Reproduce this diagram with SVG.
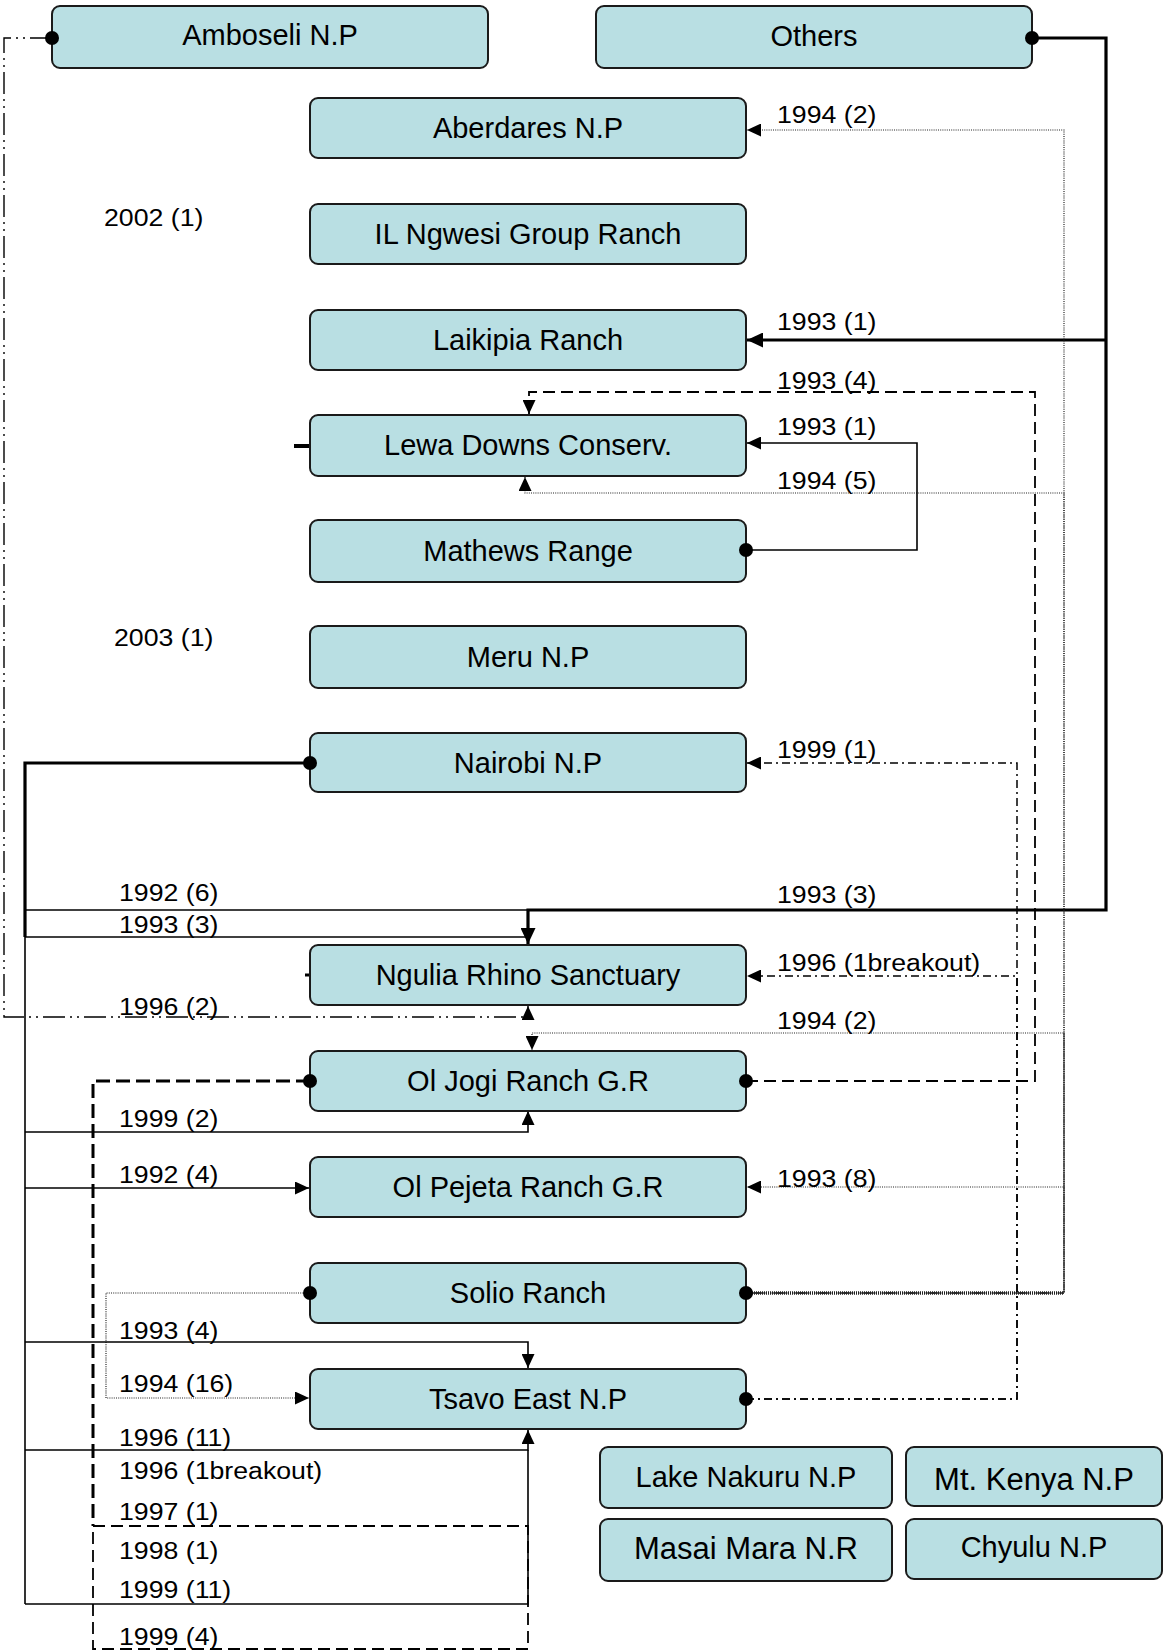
<svg xmlns="http://www.w3.org/2000/svg" width="1165" height="1651" viewBox="0 0 1165 1651">
<style>
.box{fill:#B9DFE3;stroke:#1a1a1a;stroke-width:2}
.nt{font-family:"Liberation Sans",Arial,sans-serif;font-size:29px;fill:#000;text-anchor:middle}
.nt2{font-size:31px}
.lb{font-family:"Liberation Sans",Arial,sans-serif;font-size:24.5px;fill:#000;transform-box:fill-box;transform-origin:0 100%;transform:scaleX(1.09)}
.c{fill:none;stroke:#000}
.thick{stroke-width:3.2}
.solid{stroke-width:1.6}
.dotted{stroke-width:1.2;stroke-dasharray:1 1.2;stroke:#222}
.dashed{stroke-width:1.8;stroke-dasharray:12 6}
.dashedB{stroke-width:3;stroke-dasharray:14 6}
.dashdot{stroke-width:1.5;stroke-dasharray:8 4 2 4}
.dashdotdot{stroke-width:1.4;stroke-dasharray:22 5 2 5 2 5}
</style>
<defs>
<marker id="arr" viewBox="0 0 14 14" refX="14" refY="7" markerWidth="14" markerHeight="13" markerUnits="userSpaceOnUse" orient="auto" preserveAspectRatio="none">
<path d="M0,0 L14,7 L0,14 z" fill="#000"/>
</marker>
<marker id="arrB" viewBox="0 0 14 14" refX="14" refY="7" markerWidth="16" markerHeight="15" markerUnits="userSpaceOnUse" orient="auto" preserveAspectRatio="none">
<path d="M0,0 L14,7 L0,14 z" fill="#000"/>
</marker>
</defs>

<g id="connectors">
<!-- Amboseli -> Ngulia 1996 (2) -->
<path class="c dashdotdot" d="M52,38 H4 V1017 H528 V1006" marker-end="url(#arr)"/>
<!-- Others thick -->
<path class="c thick" d="M1032,38 H1106 V910 H528 V944" marker-end="url(#arrB)"/>
<path class="c thick" d="M1106,340 H747" marker-end="url(#arrB)"/>
<!-- Solio dotted -->
<path class="c dotted" d="M746,1293 H1064 V130 H747" marker-end="url(#arr)"/>
<path class="c dotted" d="M746,1293 H1064 V493 H525 V477" marker-end="url(#arr)"/>
<path class="c dotted" d="M746,1293 H1064 V1033 H532 V1050" marker-end="url(#arr)"/>
<path class="c dotted" d="M746,1293 H1064 V1187 H747" marker-end="url(#arr)"/>
<path class="c dotted" style="stroke-width:3.5;stroke-dasharray:1 1" d="M746,1293 H1064"/>
<path class="c" style="stroke-width:1.2;stroke:#444" d="M1064,1033 V1293"/>
<path class="c dotted" d="M310,1293 H106 V1398 H309" marker-end="url(#arr)"/>
<!-- Ol Jogi dashed -->
<path class="c dashed" d="M746,1081 H1035 V392 H529 V414" marker-end="url(#arr)"/>
<path class="c dashedB" d="M310,1081 H93 V1526"/>
<path class="c dashed" d="M93,1526 H528 V1649 H93 V1526"/>
<!-- Mathews -> Lewa -->
<path class="c solid" d="M746,550 H917 V443 H747" marker-end="url(#arr)"/>
<!-- Nairobi -->
<path class="c thick" d="M310,763 H25 V937"/>
<path class="c solid" d="M25,910 H528"/>
<path class="c solid" d="M25,937 H528"/>
<path class="c solid" d="M25,937 V1604"/>
<path class="c solid" d="M25,1132 H528 V1111" marker-end="url(#arr)"/>
<path class="c solid" d="M25,1188 H309" marker-end="url(#arr)"/>
<path class="c solid" d="M25,1342 H528 V1368" marker-end="url(#arr)"/>
<path class="c solid" d="M25,1450 H528 V1430" marker-end="url(#arr)"/>
<path class="c solid" d="M25,1604 H528 V1450"/>
<!-- Tsavo dash-dot -->
<path class="c dashdot" d="M746,1399 H1017 V763 H747" marker-end="url(#arr)"/>
<path class="c dashdot" d="M746,1399 H1017 V976 H747" marker-end="url(#arr)"/>
<!-- stubs -->
<path class="c" stroke-width="4" d="M294,446 H310"/>
<path class="c" stroke-width="3" d="M305,975 H310"/>
</g>

<g id="node-amboseli"><rect class="box" x="52" y="6" width="436" height="62" rx="8"/><text class="nt" x="270" y="45">Amboseli N.P</text></g>
<g id="node-others"><rect class="box" x="596" y="6" width="436" height="62" rx="8"/><text class="nt" x="814" y="46">Others</text></g>
<g id="node-aberdares"><rect class="box" x="310" y="98" width="436" height="60" rx="8"/><text class="nt" x="528" y="138">Aberdares N.P</text></g>
<g id="node-ilngwesi"><rect class="box" x="310" y="204" width="436" height="60" rx="8"/><text class="nt" x="528" y="244">IL Ngwesi Group Ranch</text></g>
<g id="node-laikipia"><rect class="box" x="310" y="310" width="436" height="60" rx="8"/><text class="nt" x="528" y="350">Laikipia Ranch</text></g>
<g id="node-lewa"><rect class="box" x="310" y="415" width="436" height="61" rx="8"/><text class="nt" x="528" y="455">Lewa Downs Conserv.</text></g>
<g id="node-mathews"><rect class="box" x="310" y="520" width="436" height="62" rx="8"/><text class="nt" x="528" y="561">Mathews Range</text></g>
<g id="node-meru"><rect class="box" x="310" y="626" width="436" height="62" rx="8"/><text class="nt" x="528" y="667">Meru N.P</text></g>
<g id="node-nairobi"><rect class="box" x="310" y="733" width="436" height="59" rx="8"/><text class="nt" x="528" y="773">Nairobi N.P</text></g>
<g id="node-ngulia"><rect class="box" x="310" y="945" width="436" height="60" rx="8"/><text class="nt" x="528" y="985">Ngulia Rhino Sanctuary</text></g>
<g id="node-oljogi"><rect class="box" x="310" y="1051" width="436" height="60" rx="8"/><text class="nt" x="528" y="1091">Ol Jogi Ranch G.R</text></g>
<g id="node-olpejeta"><rect class="box" x="310" y="1157" width="436" height="60" rx="8"/><text class="nt" x="528" y="1197">Ol Pejeta Ranch G.R</text></g>
<g id="node-solio"><rect class="box" x="310" y="1263" width="436" height="60" rx="8"/><text class="nt" x="528" y="1303">Solio Ranch</text></g>
<g id="node-tsavo"><rect class="box" x="310" y="1369" width="436" height="60" rx="8"/><text class="nt" x="528" y="1409">Tsavo East N.P</text></g>
<g id="node-nakuru"><rect class="box" x="600" y="1447" width="292" height="61" rx="8"/><text class="nt" x="746" y="1487">Lake Nakuru N.P</text></g>
<g id="node-mtkenya"><rect class="box" x="906" y="1447" width="256" height="59" rx="8"/><text class="nt nt2" x="1034" y="1490">Mt. Kenya N.P</text></g>
<g id="node-masaimara"><rect class="box" x="600" y="1519" width="292" height="62" rx="8"/><text class="nt nt2" x="746" y="1559">Masai Mara N.R</text></g>
<g id="node-chyulu"><rect class="box" x="906" y="1519" width="256" height="60" rx="8"/><text class="nt" x="1034" y="1557">Chyulu N.P</text></g>

<g id="connector-dots">
<circle cx="52" cy="38" r="7"/>
<circle cx="1032" cy="38" r="7"/>
<circle cx="746" cy="550" r="7"/>
<circle cx="310" cy="763" r="7"/>
<circle cx="310" cy="1081" r="7"/>
<circle cx="746" cy="1081" r="7"/>
<circle cx="310" cy="1293" r="7"/>
<circle cx="746" cy="1293" r="7"/>
<circle cx="746" cy="1399" r="7"/>
</g>

<g id="labels">
<text class="lb" x="104" y="226">2002 (1)</text>
<text class="lb" x="114" y="646">2003 (1)</text>
<text class="lb" x="777" y="123">1994 (2)</text>
<text class="lb" x="777" y="330">1993 (1)</text>
<text class="lb" x="777" y="389">1993 (4)</text>
<text class="lb" x="777" y="435">1993 (1)</text>
<text class="lb" x="777" y="489">1994 (5)</text>
<text class="lb" x="777" y="758">1999 (1)</text>
<text class="lb" x="777" y="903">1993 (3)</text>
<text class="lb" x="777" y="971">1996 (1breakout)</text>
<text class="lb" x="777" y="1029">1994 (2)</text>
<text class="lb" x="777" y="1187">1993 (8)</text>
<text class="lb" x="119" y="901">1992 (6)</text>
<text class="lb" x="119" y="933">1993 (3)</text>
<text class="lb" x="119" y="1015">1996 (2)</text>
<text class="lb" x="119" y="1127">1999 (2)</text>
<text class="lb" x="119" y="1183">1992 (4)</text>
<text class="lb" x="119" y="1339">1993 (4)</text>
<text class="lb" x="119" y="1392">1994 (16)</text>
<text class="lb" x="119" y="1446">1996 (11)</text>
<text class="lb" x="119" y="1479">1996 (1breakout)</text>
<text class="lb" x="119" y="1520">1997 (1)</text>
<text class="lb" x="119" y="1559">1998 (1)</text>
<text class="lb" x="119" y="1598">1999 (11)</text>
<text class="lb" x="119" y="1645">1999 (4)</text>
</g>
</svg>
